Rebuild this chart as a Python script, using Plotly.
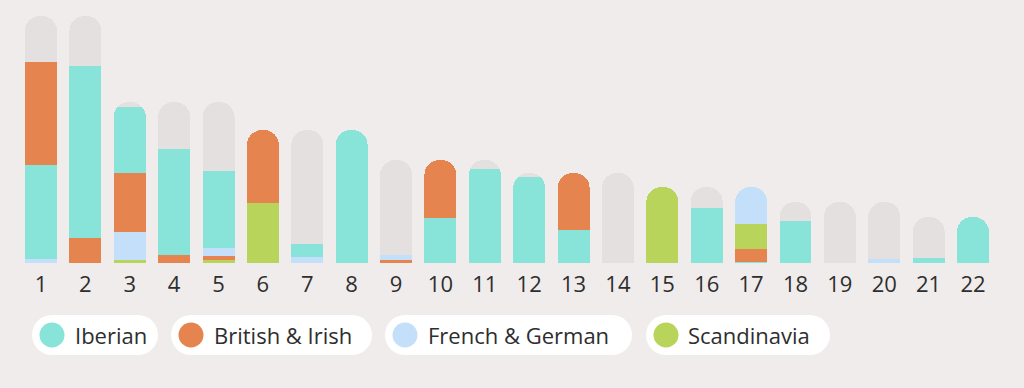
import plotly.graph_objects as go

# ---------------- data (in pixel-like length units) -------------
chromosomes = list(range(1, 23))
chrom_lengths = [247, 247, 161, 161, 161, 133, 133, 133, 103, 103, 103,
                 90, 90, 90, 76, 76, 76, 61, 61, 61, 46, 46]
iberian = [94, 172, 66, 106, 77, 0, 13, 133, 0, 45, 94,
           86, 33, 0, 0, 55, 1, 42, 0, 0, 5, 46]
british_irish = [103, 25, 59, 8, 4.5, 73, 0, 0, 3, 58, 0,
                 0, 57, 0, 0, 0, 13, 0, 0, 0, 0, 0]
french_german = [4, 0, 28, 0, 8, 0, 6, 0, 5, 0, 0,
                 0, 0, 0, 0, 0, 37, 0, 0, 4, 0, 0]
scandinavia = [0, 0, 3, 0, 3, 60, 0, 0, 0, 0, 0,
               0, 0, 0, 76, 0, 25, 0, 0, 0, 0, 0]
populations = ["Iberian", "British & Irish", "French & German", "Scandinavia"]

# ---------------- styles ----------------
BG = "#F0ECEB"
GRAY = "#E4E0DF"
TEXT = "#2E2E2E"
FONT = "Open Sans, Lato, sans-serif"
FONT_SIZE = 22
colors = {
    "Iberian": "#88E3D9",
    "British & Irish": "#E6844F",
    "French & German": "#C3DFFA",
    "Scandinavia": "#B8D45B",
}
series = {
    "Iberian": iberian,
    "British & Irish": british_irish,
    "French & German": french_german,
    "Scandinavia": scandinavia,
}

W, H = 1024, 388
PLOT_H = 263           # plot area height in px (baseline at y=263)
BAR_W = 0.72

# segments stacked smallest first within each chromosome
stacks = []
for i in range(len(chromosomes)):
    segs = [(series[p][i], p) for p in populations if series[p][i] > 0]
    segs.sort(key=lambda s: s[0])
    stacks.append(segs)

fig = go.Figure()
n_layers = max(len(s) for s in stacks)
for k in range(n_layers):
    vals, cols, names = [], [], []
    for segs in stacks:
        if k < len(segs):
            v, p = segs[k]
            vals.append(v)
            cols.append(colors[p])
            names.append(p)
        else:
            vals.append(0)
            cols.append(GRAY)
            names.append("")
    fig.add_trace(go.Bar(
        x=chromosomes, y=vals, width=BAR_W,
        marker=dict(color=cols, line=dict(width=0)),
        customdata=names, showlegend=False,
        hovertemplate="Chr %{x}<br>%{customdata}: %{y}<extra></extra>",
    ))

remainder = [L - sum(v for v, _ in segs) for L, segs in zip(chrom_lengths, stacks)]
fig.add_trace(go.Bar(
    x=chromosomes, y=remainder, width=BAR_W,
    marker=dict(color=GRAY, line=dict(width=0)),
    showlegend=False, hoverinfo="skip",
))

# x range so that chromosome 1 is centred at 41 px and 22 at 973 px
px_per_unit = (973 - 41) / 21
x0 = 1 - 41 / px_per_unit
x1 = x0 + W / px_per_unit


def px_to_paper(px, py):
    return px / W, (PLOT_H - py) / PLOT_H


# ---------------- custom legend (pills) ----------------
legend_items = [
    # (label, pill_x0, pill_x1, circle_cx, text_x)
    ("Iberian", 32, 158, 52, 73),
    ("British & Irish", 171, 372, 191, 212),
    ("French & German", 385, 632, 405, 426),
    ("Scandinavia", 646, 830, 666, 686),
]
pill_y0, pill_y1 = 315, 355
pill_r = (pill_y1 - pill_y0) / 2
pill_cy = (pill_y0 + pill_y1) / 2
dot_r = 12.5
shapes, annotations = [], []
for label, px0, px1, cx, tx in legend_items:
    a = px_to_paper(px0 + pill_r, pill_y0)
    b = px_to_paper(px1 - pill_r, pill_y1)
    shapes.append(dict(type="rect", xref="paper", yref="paper", x0=a[0], y0=b[1], x1=b[0], y1=a[1],
                       fillcolor="white", line=dict(width=0), layer="below"))
    for ccx in (px0 + pill_r, px1 - pill_r):
        a = px_to_paper(ccx - pill_r, pill_y0)
        b = px_to_paper(ccx + pill_r, pill_y1)
        shapes.append(dict(type="circle", xref="paper", yref="paper", x0=a[0], y0=b[1], x1=b[0], y1=a[1],
                           fillcolor="white", line=dict(width=0), layer="below"))
    a = px_to_paper(cx - dot_r, pill_cy - dot_r)
    b = px_to_paper(cx + dot_r, pill_cy + dot_r)
    shapes.append(dict(type="circle", xref="paper", yref="paper", x0=a[0], y0=b[1], x1=b[0], y1=a[1],
                       fillcolor=colors[label], line=dict(width=0)))
    t = px_to_paper(tx, pill_cy)
    annotations.append(dict(text=label, xref="paper", yref="paper", x=t[0], y=t[1],
                            xanchor="left", yanchor="middle", showarrow=False,
                            font=dict(family=FONT, size=FONT_SIZE, color=TEXT)))

fig.update_layout(
    width=W, height=H,
    barmode="stack", barcornerradius="50%",
    paper_bgcolor=BG, plot_bgcolor=BG,
    margin=dict(l=0, r=0, t=0, b=H - PLOT_H),
    font=dict(family=FONT, color=TEXT),
    xaxis=dict(range=[x0, x1], tickmode="array", tickvals=chromosomes,
               ticktext=[str(c) for c in chromosomes],
               tickfont=dict(family=FONT, size=FONT_SIZE, color=TEXT),
               showgrid=False, zeroline=False, showline=False, ticks="",
               ticklabelstandoff=6, fixedrange=True),
    yaxis=dict(range=[0, PLOT_H], visible=False, fixedrange=True),
    shapes=shapes, annotations=annotations,
    showlegend=False,
)

fig.write_html("out.html", config={"displayModeBar": False},
               post_script="document.body.style.margin='0';document.body.style.overflow='hidden';")
